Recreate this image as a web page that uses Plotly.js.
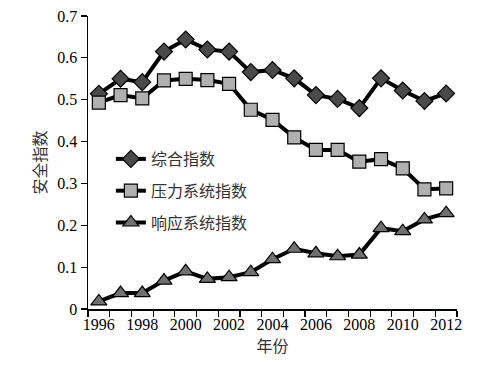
<!DOCTYPE html>
<html>
<head>
<meta charset="utf-8">
<script src="https://cdn.plot.ly/plotly-3.0.1.min.js"></script>
<style>html,body{margin:0;padding:0;background:#fff;}#chart{width:483px;height:371px;}</style>
</head>
<body>
<div id="chart"></div>
<script>
var years = [1996,1997,1998,1999,2000,2001,2002,2003,2004,2005,2006,2007,2008,2009,2010,2011,2012];
var composite = [0.514,0.550,0.542,0.615,0.644,0.620,0.615,0.566,0.571,0.551,0.511,0.502,0.480,0.551,0.522,0.497,0.515];
var pressure  = [0.493,0.511,0.503,0.546,0.550,0.547,0.538,0.476,0.452,0.410,0.380,0.380,0.352,0.358,0.336,0.286,0.288];
var response  = [0.018,0.038,0.038,0.068,0.090,0.072,0.076,0.088,0.119,0.144,0.133,0.126,0.130,0.193,0.186,0.214,0.229];
var xTickVals = [1996,1998,2000,2002,2004,2006,2008,2010,2012];
var xTickText = ['1996','1998','2000','2002','2004','2006','2008','2010','2012'];
var names = ['综合指数','压力系统指数','响应系统指数'];

var serif = 'Liberation Serif, Times New Roman, serif';
var cjk = 'Noto Sans CJK SC, sans-serif';

function tr(y, name, sym, fill, size, g){
  return {x: years, y: y, name: name, type: 'scatter', mode: 'lines+markers',
    legendgroup: g,
    line: {color: '#000', width: 4},
    marker: {symbol: sym, size: size, color: fill, line: {color: '#000', width: 1.2}}};
}
var data = [
  tr(composite, names[0], 'diamond', '#4a4a4a', 13, 'a'),
  tr(pressure, names[1], 'square', '#b0b0b0', 13, 'b'),
  tr(response, names[2], 'triangle-up', '#707070', 14, 'c')
];
var layout = {
  width: 483, height: 371,
  margin: {l: 88, r: 26, t: 16, b: 62},
  paper_bgcolor: '#fff', plot_bgcolor: '#fff',
  showlegend: true,
  legend: {x: 0.062, y: 0.57, xanchor: 'left', yanchor: 'top', bgcolor: 'rgba(0,0,0,0)',
    font: {family: cjk, size: 16, color: '#333'}, tracegroupgap: 8, traceorder: 'grouped'},
  xaxis: {range: [1995.5, 2012.5], tickvals: xTickVals, ticktext: xTickText, ticks: '',
    showline: true, linecolor: '#000', linewidth: 1.5, showgrid: false, zeroline: false,
    tickfont: {family: serif, size: 16, color: '#000'},
    minor: {tick0: 1995.5, dtick: 1, ticks: 'outside', ticklen: 6, tickcolor: '#000', tickwidth: 1.2, showgrid: false},
    title: {text: '年份', font: {family: cjk, size: 16, color: '#333'}, standoff: 6}},
  yaxis: {range: [0, 0.7], dtick: 0.1, tick0: 0, ticks: 'outside', ticklen: 6, tickcolor: '#000', tickwidth: 1.2,
    showline: true, linecolor: '#000', linewidth: 1.5, showgrid: false, zeroline: false,
    tickfont: {family: serif, size: 16, color: '#000'},
    tickformat: '.1~f',
    title: {text: '安全指数', font: {family: cjk, size: 16, color: '#333'}, standoff: 6}}
};
Plotly.newPlot('chart', data, layout, {staticPlot: true, displayModeBar: false});
</script>
</body>
</html>
